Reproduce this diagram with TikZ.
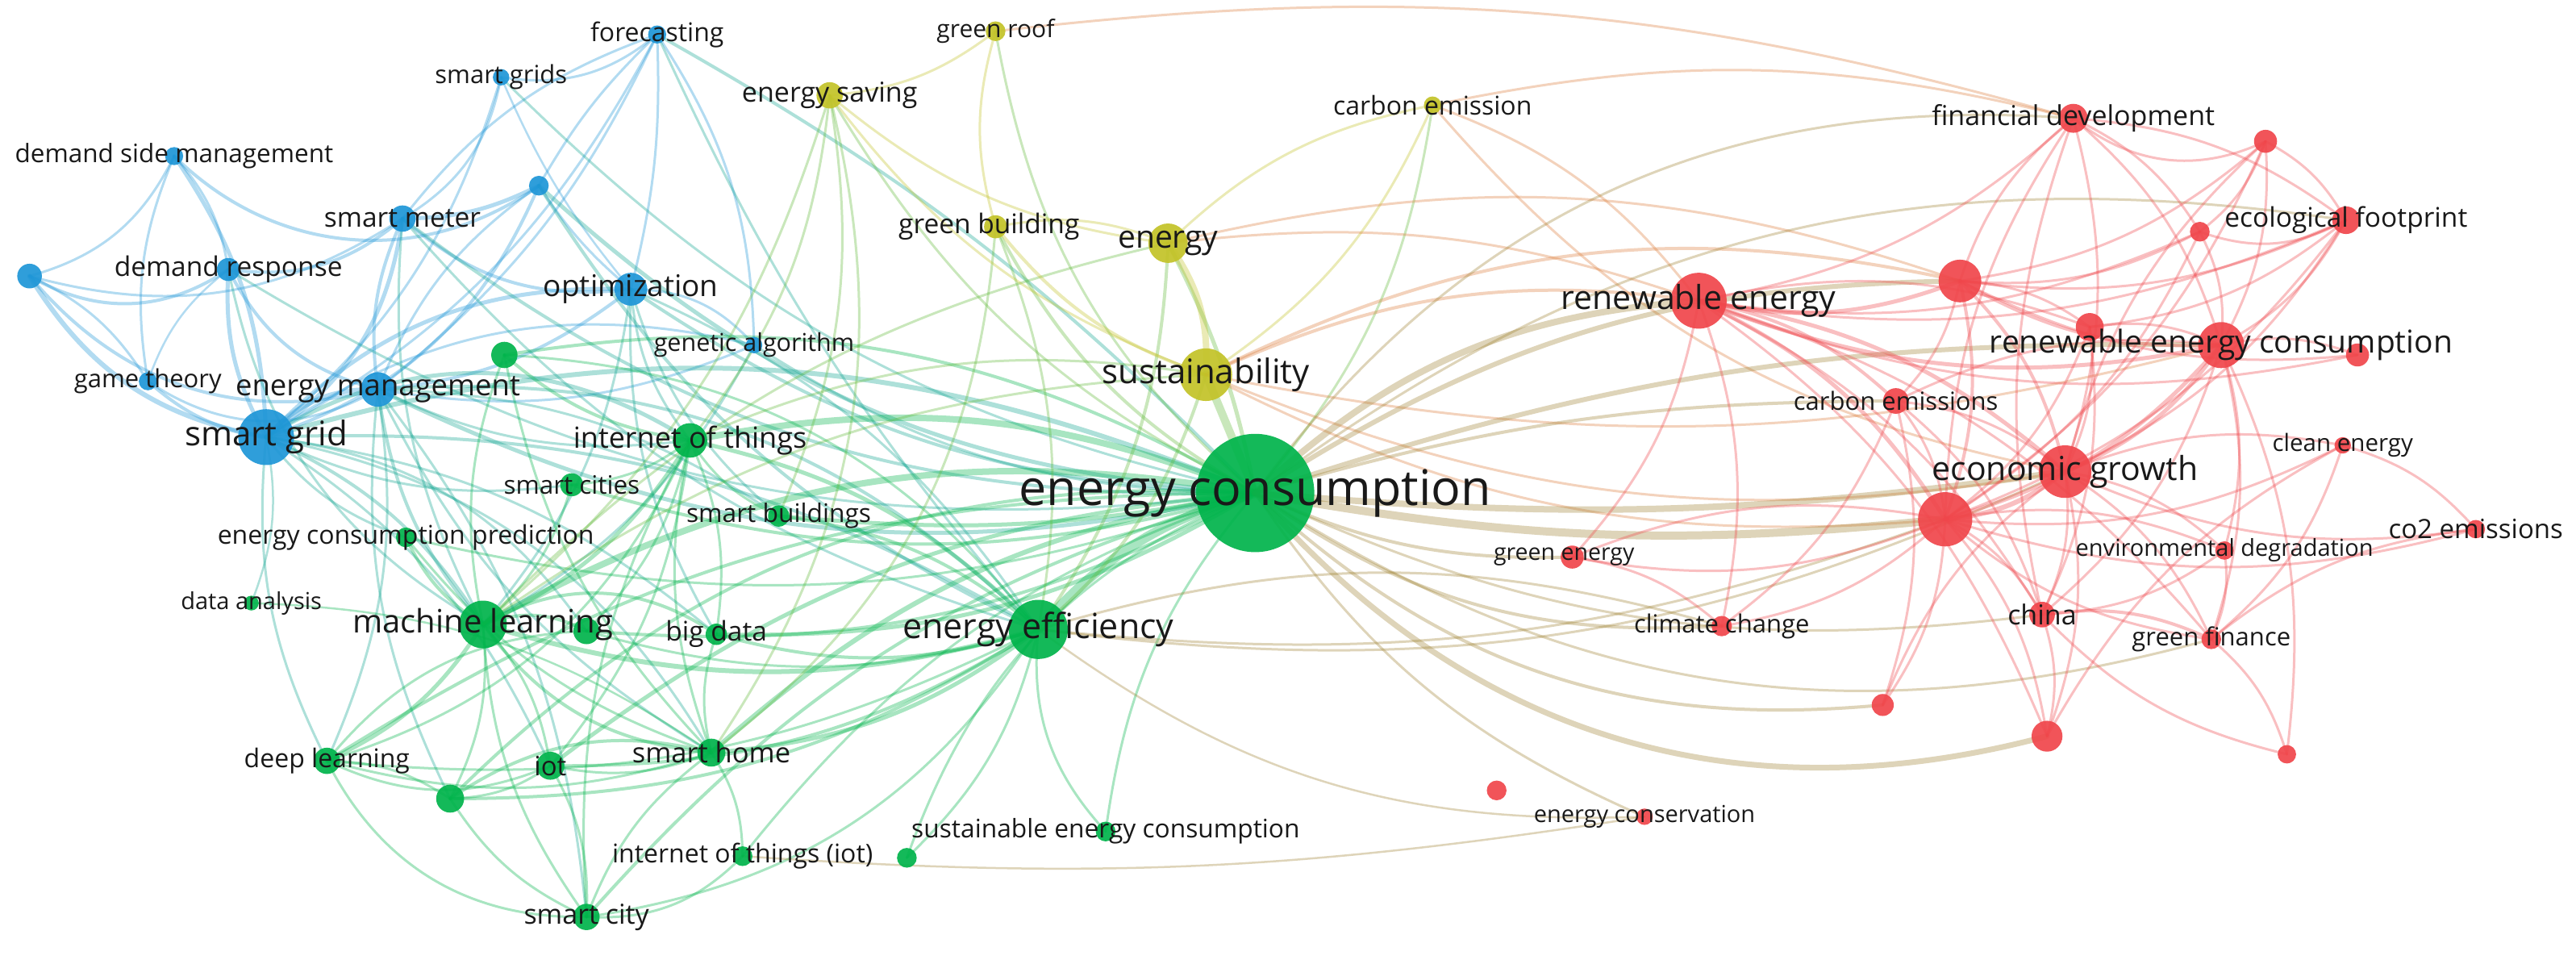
\documentclass[tikz,border=0pt]{standalone}
\usepackage{fontspec}
\setmainfont{Open Sans}
\usetikzlibrary{calc}
\newcommand\fs[1]{\fontsize{#1}{#1}\selectfont}
\definecolor{cB}{RGB}{30,150,215}
\definecolor{cG}{RGB}{0,180,75}
\definecolor{cY}{RGB}{195,195,40}
\definecolor{cR}{RGB}{240,70,75}
\definecolor{txt}{RGB}{25,25,25}
\colorlet{eB}{cB}
\colorlet{eBG}{cB!50!cG}
\colorlet{eG}{cG}
\colorlet{eGY}{cG!50!cY}
\colorlet{eY}{cY}
\colorlet{eYR}{cY!45!cR}
\definecolor{eGR}{RGB}{160,130,50}
\colorlet{eR}{cR}
\pgfdeclarelayer{edgelayer}
\pgfsetlayers{edgelayer,main}
\newcommand\N[4]{\node[vnode, fill=#4, minimum size=#3*4.074pt] (#1) at (#2) {};}
\newcommand\Lb[3]{\node[lab, font=\fs{#3}] (#1-t) at (#1.center) {#2};}
\newcommand\EDGES[2]{\foreach \a/\b/\w/\bd [evaluate=\bd as \pb using 1.6*(\bd), evaluate=\bd as \nb using -1.6*(\bd)] in {#2}
  \draw[edg, draw=#1, line width=\w pt] (\a.center) .. controls ($(\a.center)!0.39!\pb:(\b.center)$) and ($(\b.center)!0.39!\nb:(\a.center)$) .. (\b.center);}
\begin{document}
\begin{tikzpicture}[x=2.037pt, y=-2.037pt,
  vnode/.style={circle, inner sep=0pt, fill opacity=0.92},
  lab/.style={inner sep=0pt, text=txt},
  edg/.style={draw opacity=0.34, line cap=round}]
\begin{pgfonlayer}{edgelayer}
\fill[white] (0,0) rectangle (1568,584);
\end{pgfonlayer}
\useasboundingbox (0,0) rectangle (1568,584);
% ---------- nodes (circles) ----------
\N{fc}{400,21}{5.5}{cB}
\N{sgs}{305,47}{5}{cB}
\N{dsm}{106,95}{5.5}{cB}
\N{b1}{328,113}{6}{cB}
\N{sm}{245,133}{8}{cB}
\N{dr}{139,164}{7}{cB}
\N{b2}{18,168}{7.5}{cB}
\N{opt}{384,176}{10}{cB}
\N{ga}{459,210}{5}{cB}
\N{gt}{90,232}{5.5}{cB}
\N{em}{230,237}{10.5}{cB}
\N{sg}{162,266}{17}{cB}
\N{g1}{307,216}{8}{cG}
\N{iot2}{420,268}{10.5}{cG}
\N{sc}{348,295}{7}{cG}
\N{sb}{474,314}{6.5}{cG}
\N{ecp}{247,327}{6}{cG}
\N{da}{153,367}{4.5}{cG}
\N{ml}{294,380}{14.5}{cG}
\N{g2}{357,384}{8}{cG}
\N{bd}{436,386}{6.5}{cG}
\N{ee}{632,383}{18}{cG}
\N{dl}{199,463}{8}{cG}
\N{iot}{335,466}{8.5}{cG}
\N{sh}{433,458}{8.5}{cG}
\N{g3}{274,486}{8.5}{cG}
\N{iotp}{452,521}{6}{cG}
\N{sec}{673,506}{6}{cG}
\N{g4}{552,522}{6}{cG}
\N{scy}{357,558}{8}{cG}
\N{ec}{764,300}{36}{cG}
\N{gr}{606,19}{6}{cY}
\N{es}{505,58}{8}{cY}
\N{ce}{872,64}{5.3}{cY}
\N{gb}{606,138}{7}{cY}
\N{en}{711,148}{12}{cY}
\N{sus}{734,228}{16}{cY}
\N{fd}{1262,72}{8.8}{cR}
\N{r1}{1379,86}{7}{cR}
\N{ef}{1428,134}{8.4}{cR}
\N{r2}{1339,141}{6}{cR}
\N{r3}{1193,171}{13}{cR}
\N{re}{1034,183}{17}{cR}
\N{r4}{1272,199}{8.5}{cR}
\N{rec}{1352,210}{14}{cR}
\N{r5}{1435,216}{7}{cR}
\N{ces}{1154,244}{7.8}{cR}
\N{cle}{1426,271}{5}{cR}
\N{eg}{1257,287}{16}{cR}
\N{r6}{1184,316}{16.5}{cR}
\N{co2}{1507,322}{5.6}{cR}
\N{envd}{1354,335}{5.6}{cR}
\N{gen}{957,339}{7}{cR}
\N{cc}{1048,381}{6.2}{cR}
\N{ch}{1243,374}{7.8}{cR}
\N{gf}{1346,389}{6}{cR}
\N{r7}{1146,429}{6.7}{cR}
\N{r8}{1246,448}{9.4}{cR}
\N{r9}{1392,459}{5.6}{cR}
\N{r10}{911,481}{6}{cR}
\N{econ}{1001,497}{5}{cR}
% ---------- edges (behind) ----------
\begin{pgfonlayer}{edgelayer}
\EDGES{eB}{sg/em/6/15, sg/dr/5/10, sg/dsm/5/-10, sg/b2/6/15, sg/gt/4/10, sg/sm/5/-15, sg/opt/5/15, sg/b1/4/-15, sg/fc/3/-10, sg/sgs/3/-10, sg/ga/3/15,
 em/sm/4/10, em/opt/4/-10, em/dr/4/15, em/b1/3/10, em/gt/3/20, em/fc/3/-8, em/ga/3/-10, em/b2/4/20,
 dsm/dr/3/10, dsm/b2/3/15, dsm/b1/4/-25, dsm/gt/3/-10,
 b2/dr/4/-20, b2/gt/3/10, b2/sm/3/-15,
 sm/b1/5/-8, sm/dr/4/15, sm/opt/4/-15, sm/sgs/3/-15, sm/fc/3/10,
 fc/sgs/3/15, fc/b1/3/-5, fc/opt/3/5, fc/ga/3/10,
 opt/b1/3/5, opt/ga/3/15, opt/sgs/2.5/5, gt/dr/2.5/10}
\EDGES{eBG}{sg/ml/4/10, sg/ecp/3/-10, sg/iot2/5/20, sg/ec/6/12, sg/ee/4/10, sg/sh/3/15, sg/dl/3/-10, sg/bd/3/10, sg/sc/3/-10, sg/iot/3/10, sg/g2/3/15, sg/da/2.5/10,
 em/ml/4/-10, em/ec/5/-12, em/ee/4/15, em/iot2/3/-10, em/sb/3/10, em/sh/3/-10, em/scy/3/10, em/g3/3/-10, em/dl/3/10,
 opt/ec/4/-10, opt/ml/3/10, opt/iot2/3/-10, opt/ee/3/10, opt/sb/3/-10, opt/bd/3/-10,
 sm/ec/4/-12, sm/ml/3/-10, sm/ee/3/-10, b1/ec/5/-12, b1/ee/4/-10,
 fc/ec/4/5, fc/ee/3/-5, ga/ec/3/-10, ga/ml/3/10, dr/ml/3/-15, dr/ec/3/-12, sgs/ec/3/-10}
\EDGES{eG}{ec/ee/12/-10, ec/ml/8/-12, ec/iot2/8/-10, ec/sb/5/5, ec/sh/6/-10, ec/iot/5/-10, ec/bd/5/10, ec/scy/4/-10, ec/dl/4/-10, ec/g1/4/-12, ec/g2/4/10, ec/g3/4/-15, ec/sc/4/10, ec/ecp/3/10, ec/sec/3/-10, ec/g4/3/-15, ec/iotp/3/-10,
 ee/ml/6/10, ee/iot2/5/-10, ee/sh/5/10, ee/sb/4/-10, ee/bd/4/10, ee/iot/4/10, ee/scy/3/15, ee/dl/3/10, ee/g3/4/10, ee/g4/3/10, ee/sec/3/-15, ee/g1/3/-15, ee/g2/3/10,
 ml/iot2/5/-10, ml/dl/5/10, ml/ecp/4/10, ml/g2/4/15, ml/bd/4/20, ml/sh/4/-15, ml/iot/3/10, ml/scy/3/-10, ml/g3/3/10, ml/sc/3/-10, ml/g1/3/10,
 da/sh/2.5/10, iot2/sc/3/10, iot2/sb/3/-10, iot2/g2/3/10, iot2/sh/3/-10, iot2/bd/3/10, iot2/scy/3/-10, iot2/iot/3/10, iot2/dl/3/15, iot2/g1/4/10,
 dl/g3/3/10, dl/iot/3/-15, dl/scy/3/-20, dl/sh/3/-10, dl/g2/3/15, iot/scy/3/10, iot/sh/3/-10, iot/g3/3/10,
 sh/scy/3/-10, sh/iotp/3/10, sh/g3/4/-15, sh/bd/3/10, scy/iotp/3/-15, scy/g3/3/10, g1/sh/3/-10, ecp/sh/3/-10}
\EDGES{eGY}{sus/ec/10/0, en/ec/5/5, gb/ec/4/-10, es/ec/3/-10, gr/ec/3/-12, ce/ec/3/10, es/ml/3/10, es/sh/3/15, es/iot2/3/10, gb/ee/3/10, gb/sh/3/15, en/ee/4/10, sus/ee/4/10, sus/ml/3/-10, sus/iot2/3/-10, en/ml/3/-10, es/sb/3/10}
\EDGES{eY}{sus/en/8/-12, gb/sus/4/-10, gb/en/3/10, es/sus/3/-10, gr/es/3/10, gr/gb/3/-10, ce/sus/3/10, ce/en/3/-10, es/en/3/-10}
\EDGES{eYR}{ce/re/3/10, en/re/3/8, sus/re/4/10, sus/eg/3/-10, sus/r3/4/12, gr/fd/3/7, ce/eg/3/-12, en/r3/3/10, ce/fd/3/8, sus/rec/3/-8, sus/r6/3/-10}
\EDGES{eGR}{ec/re/8/12, ec/r3/6/10, ec/eg/8/-4, ec/r6/10/-5, ec/rec/6/6, ec/ces/4/5, ec/gen/4/-8, ec/cc/4/-12, ec/r8/7/-20, ec/r7/4/-15, ec/ch/3/-10, ec/gf/3/-15, ec/fd/3/18, ec/ef/3/14, ee/cc/3/10, ee/r6/3/-8, ee/eg/3/-10, ee/econ/2.5/-12, iotp/econ/2.5/-4, ec/econ/3/-10}
\EDGES{eR}{re/r3/5/-10, re/rec/5/-10, re/eg/5/10, re/r6/5/10, re/ces/4/10, re/fd/3/-10, re/ef/3/-10, re/r4/3/10, re/cc/3/10, re/ch/3/10, re/gf/3/10, re/r8/3/10, re/gen/3/10, re/r2/3/-10, re/r5/3/-10,
 r3/fd/3/10, r3/rec/4/-10, r3/eg/4/10, r3/r6/4/10, r3/ef/3/-10, r3/r1/3/-10, r3/r4/3/10, r3/ces/3/10, r3/r2/3/-10, r3/r5/3/-10,
 fd/r1/3/-20, fd/ef/3/10, fd/rec/3/10, fd/eg/3/10, fd/r6/3/-10, fd/r2/3/10, fd/ch/3/-10,
 r1/ef/3/10, r1/rec/3/10, r1/eg/3/-10, r1/r6/3/10, r1/r2/3/10, ef/rec/3/10, ef/eg/3/10, ef/r6/3/10, ef/r2/3/15, ef/r4/3/10,
 r2/rec/3/10, r2/r6/3/10, r4/rec/3/10, r4/eg/3/10, r4/r6/3/10, r4/ch/3/10,
 rec/eg/5/10, rec/r6/5/10, rec/r5/3/10, rec/ces/3/-10, rec/ch/3/10, rec/gf/3/10, rec/envd/3/10,
 ces/eg/3/10, ces/r6/3/10, ces/ch/3/10, ces/cc/3/10, ces/r7/3/10,
 eg/r6/6/10, eg/ch/3/10, eg/envd/3/10, eg/co2/3/-10, eg/cle/3/10, eg/gf/3/10, eg/r8/3/10, eg/r7/3/-10,
 r6/ch/3/10, r6/cc/3/10, r6/r7/3/10, r6/r8/3/10, r6/gf/3/-10, r6/envd/3/10, r6/gen/3/10,
 cle/co2/3/10, cle/gf/3/10, cle/r6/3/10, cle/r8/3/-10, co2/gf/3/-10, co2/r6/3/10, envd/gf/3/10, envd/ch/3/10,
 ch/gf/4/10, ch/r8/3/10, gf/r9/3/10, ch/r9/3/-10, rec/r9/3/10, gen/cc/3/10, gen/r6/3/10}
\end{pgfonlayer}
% ---------- labels ----------
\Lb{fc}{forecasting}{32}
\Lb{sgs}{smart grids}{31}
\Lb{dsm}{demand side management}{31.5}
\Lb{sm}{smart meter}{33.5}
\Lb{dr}{demand response}{33.5}
\Lb{opt}{optimization}{37}
\Lb{ga}{genetic algorithm}{30.5}
\Lb{gt}{game theory}{31}
\Lb{em}{energy management}{36.5}
\Lb{sg}{smart grid}{42}
\Lb{iot2}{internet of things}{36}
\Lb{sc}{smart cities}{31.5}
\Lb{sb}{smart buildings}{31.7}
\Lb{ecp}{energy consumption prediction}{32}
\Lb{da}{data analysis}{29}
\Lb{ml}{machine learning}{40}
\Lb{bd}{big data}{33.5}
\Lb{ee}{energy efficiency}{43}
\Lb{dl}{deep learning}{32}
\Lb{iot}{iot}{33}
\Lb{sh}{smart home}{34.5}
\Lb{iotp}{internet of things (iot)}{32}
\Lb{sec}{sustainable energy consumption}{31.7}
\Lb{scy}{smart city}{34}
\Lb{ec}{energy consumption}{61}
\Lb{gr}{green roof}{30}
\Lb{es}{energy saving}{34}
\Lb{ce}{carbon emission}{32}
\node[lab, font=\fs{33.5}] (gb-t) at ($(gb.center)+(-4,0)$) {green building};
\Lb{en}{energy}{39}
\Lb{sus}{sustainability}{42}
\Lb{fd}{financial development}{34}
\Lb{ef}{ecological footprint}{33.5}
\Lb{re}{renewable energy}{41}
\Lb{rec}{renewable energy consumption}{39}
\Lb{ces}{carbon emissions}{31}
\Lb{cle}{clean energy}{29.5}
\Lb{eg}{economic growth}{41}
\Lb{co2}{co2 emissions}{33}
\Lb{envd}{environmental degradation}{29}
\node[lab, font=\fs{28.5}] (gen-t) at ($(gen.center)+(-5,0)$) {green energy};
\Lb{cc}{climate change}{31}
\Lb{ch}{china}{34}
\Lb{gf}{green finance}{31}
\Lb{econ}{energy conservation}{29}
\end{tikzpicture}
\end{document}
